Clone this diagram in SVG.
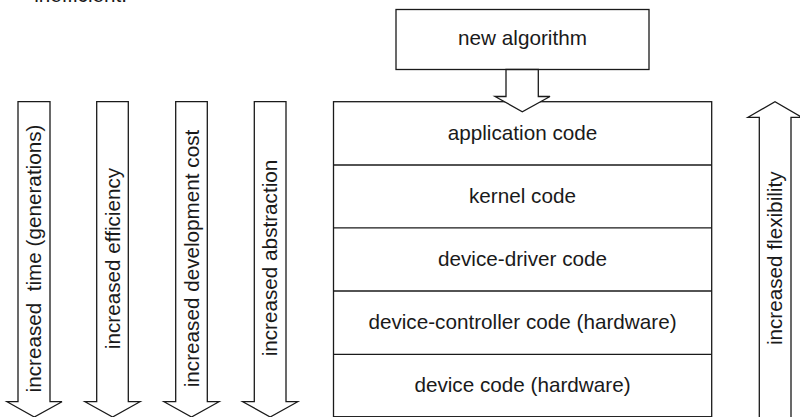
<svg xmlns="http://www.w3.org/2000/svg" width="800" height="417" viewBox="0 0 800 417">
<style>
.ln{fill:none;stroke:#1a1a1a;stroke-width:1.3}
.ar{fill:#fff;stroke:#1a1a1a;stroke-width:1.3;stroke-linejoin:miter}
.t{font-family:"Liberation Sans",Arial,Helvetica,sans-serif;font-size:20.7px;fill:#1a1a1a;text-anchor:middle}
</style>
<rect width="800" height="417" fill="#fff"/>
<text class="t" x="127" y="2" style="text-anchor:end">inefficient.</text>
<g id="new-algorithm">
<rect class="ar" x="396" y="9.5" width="253" height="60"/>
<text class="t" x="522.5" y="45">new algorithm</text>
</g>
<g id="stack">
<rect class="ln" x="333.5" y="101.7" width="378.2" height="315"/>
</g>
<g id="application-code">
<line class="ln" x1="333.5" y1="165" x2="711.7" y2="165"/>
<text class="t" x="522.5" y="139.5">application code</text>
</g>
<g id="kernel-code">
<line class="ln" x1="333.5" y1="227.8" x2="711.7" y2="227.8"/>
<text class="t" x="522.5" y="202.5">kernel code</text>
</g>
<g id="device-driver-code">
<line class="ln" x1="333.5" y1="291" x2="711.7" y2="291"/>
<text class="t" x="522.5" y="265.5">device-driver code</text>
</g>
<g id="device-controller-code">
<line class="ln" x1="333.5" y1="354.3" x2="711.7" y2="354.3"/>
<text class="t" x="522.5" y="328.5">device-controller code (hardware)</text>
</g>
<g id="device-code">
<text class="t" x="522.5" y="391.5">device code (hardware)</text>
</g>
<g id="connectors">
<polygon class="ar" points="506,69.5 538.3,69.5 538.3,96.5 550,96.5 522.3,111.7 495,96.5 506,96.5"/>
<polygon class="ar" points="18,101.7 50,101.7 50,401.7 62,401.7 34.3,417 7,401.7 18,401.7"/>
<polygon class="ar" points="96.7,101.7 128.3,101.7 128.3,401.7 140,401.7 112.6,417 85,401.7 96.7,401.7"/>
<polygon class="ar" points="175.7,101.7 207.3,101.7 207.3,401.7 219,401.7 191.5,417 164,401.7 175.7,401.7"/>
<polygon class="ar" points="254.3,101.7 286,101.7 286,401.7 297.7,401.7 270.2,417 242.7,401.7 254.3,401.7"/>
<polygon class="ar" points="759.3,420 759.3,117.3 748,117.3 775,101.7 802,117.3 791,117.3 791,420"/>
</g>
<g id="label-time">
<text class="t" xml:space="preserve" transform="translate(41,258.5) rotate(-90)">increased  time (generations)</text>
</g>
<g id="label-efficiency">
<text class="t" transform="translate(119.7,258.5) rotate(-90)">increased efficiency</text>
</g>
<g id="label-cost">
<text class="t" transform="translate(198.5,258.5) rotate(-90)">increased development cost</text>
</g>
<g id="label-abstraction">
<text class="t" transform="translate(277,258) rotate(-90)">increased abstraction</text>
</g>
<g id="label-flexibility">
<text class="t" transform="translate(781.8,258.3) rotate(-90)">increased flexibility</text>
</g>
</svg>
